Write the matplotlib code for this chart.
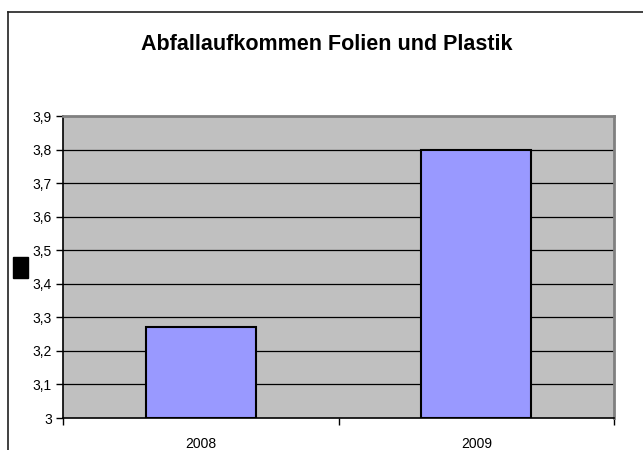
import matplotlib.pyplot as plt
from matplotlib.patches import Rectangle
from matplotlib.lines import Line2D

# Daten
jahre = ['2008', '2009']
werte = [3.27, 3.80]
yticks = [3.0, 3.1, 3.2, 3.3, 3.4, 3.5, 3.6, 3.7, 3.8, 3.9]
ytick_labels = ['3', '3,1', '3,2', '3,3', '3,4', '3,5', '3,6', '3,7', '3,8', '3,9']
titel = 'Abfallaufkommen Folien und Plastik'

W, H = 643, 450
plt.rcParams['font.family'] = ['Liberation Sans', 'DejaVu Sans']
fig = plt.figure(figsize=(W / 100, H / 100), dpi=100)

# Plotbereich in Pixeln
x0, x1, y0, y1 = 63, 614, 418, 116
ax = fig.add_axes([x0 / W, 1 - y0 / H, (x1 - x0) / W, (y0 - y1) / H])
ax.set_facecolor('#C0C0C0')

pos = [0.5, 1.5]
ax.bar(pos, [v - 3 for v in werte], bottom=3, width=0.4, color='#9999FF',
       edgecolor='black', linewidth=1.5, zorder=3)

ax.set_xlim(0, 2)
ax.set_ylim(3.0, 3.9)
ax.set_yticks(yticks)
ax.set_yticklabels(ytick_labels, fontsize=10)
for y in yticks[1:-1]:
    ax.axhline(y, color='black', linewidth=0.9, zorder=1)

ax.set_xticks([0, 1, 2])
ax.set_xticklabels([])
ax.set_xticks(pos, minor=True)
ax.set_xticklabels(jahre, minor=True, fontsize=10)
ax.tick_params(axis='x', which='minor', length=0, pad=14)
ax.tick_params(axis='x', which='major', length=5, direction='out', width=1)
ax.tick_params(axis='y', length=5, direction='out', width=1, pad=3)

for s in ['left', 'bottom']:
    ax.spines[s].set_color('black')
    ax.spines[s].set_linewidth(1.2)
for s in ['top', 'right']:
    ax.spines[s].set_color('#808080')
    ax.spines[s].set_linewidth(2)

fig.text(327 / W, 1 - 45 / H, titel, ha='center', va='center',
         fontsize=15.5, fontweight='bold')

# schwarzes Kästchen (Achsentitel-Platzhalter)
fig.patches.append(Rectangle((13 / W, 1 - 278 / H), 15 / W, 21 / H,
                             transform=fig.transFigure, color='black'))

# Rahmen des Diagramms
fig.lines.append(Line2D([8 / W, 8 / W], [0, 1 - 12 / H], transform=fig.transFigure,
                        color='#202020', linewidth=1.2))
fig.lines.append(Line2D([8 / W, 1], [1 - 12 / H, 1 - 12 / H], transform=fig.transFigure,
                        color='#202020', linewidth=1.2))

fig.savefig('out.png', dpi=100)
